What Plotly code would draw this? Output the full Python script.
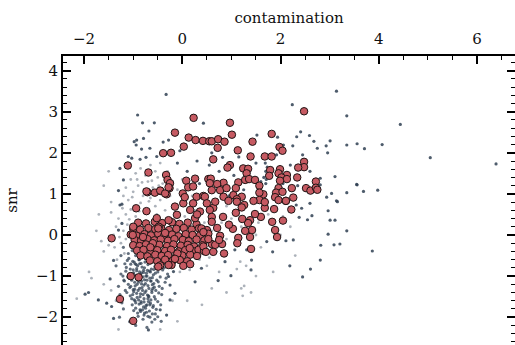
import plotly.graph_objects as go

# ---- flagged sources (red), core blob ----
core_x = [-0.90, -0.74, -0.56, -0.41, -0.21, -0.06, 0.11, 0.29,
          -1.00, -0.86, -0.69, -0.55, -0.43, -0.27, -0.12, 0.03, 0.19, 0.34, 0.50,
          -1.05, -0.93, -0.77, -0.64, -0.49, -0.37, -0.21, -0.08, 0.07, 0.21, 0.36, 0.53,
          -0.97, -0.84, -0.71, -0.57, -0.44, -0.29, -0.16, 0.01, 0.13, 0.29, 0.45,
          -1.00, -0.87, -0.74, -0.61, -0.47, -0.31, -0.18, -0.03, 0.11, 0.24, 0.41, 0.60,
          -0.92, -0.79, -0.63, -0.51, -0.35, -0.23, -0.07, 0.06, 0.21, 0.33,
          -0.85, -0.71, -0.55, -0.42, -0.29, -0.13, 0.00, 0.16, 0.30,
          -0.66, -0.51, -0.35, -0.20, -0.05, 0.10,
          -0.45, -0.22, 0.02, -0.80, -0.60, -0.35, -0.10, 0.15, -0.65, -0.48, -0.15]
core_y = [0.30, 0.28, 0.32, 0.29, 0.31, 0.27, 0.30, 0.26,
          0.15, 0.13, 0.17, 0.14, 0.16, 0.12, 0.15, 0.17, 0.13, 0.16, 0.12,
          0.01, -0.02, 0.02, -0.01, 0.03, -0.02, 0.01, -0.03, 0.02, 0.00, -0.01, 0.03,
          -0.12, -0.14, -0.10, -0.13, -0.11, -0.14, -0.10, -0.12, -0.15, -0.11, -0.13,
          -0.25, -0.27, -0.23, -0.26, -0.24, -0.27, -0.23, -0.26, -0.24, -0.28, -0.25, -0.22,
          -0.38, -0.36, -0.40, -0.37, -0.39, -0.36, -0.40, -0.37, -0.39, -0.36,
          -0.50, -0.52, -0.48, -0.51, -0.49, -0.53, -0.50, -0.48, -0.51,
          -0.62, -0.64, -0.60, -0.63, -0.61, -0.64,
          -0.74, -0.73, -0.75, -0.05, -0.20, 0.05, -0.45, -0.32, -0.30, 0.20, -0.58]

# ---- flagged sources (red), spread to higher contamination / snr ----
spread_x = [0.23, -0.15, 0.13, 0.27, 0.42, 0.03, -0.39, -0.23, -1.11, -0.69,
            -0.33, -0.30, 0.08, 0.26, -0.25, -0.26, 0.12, 0.22, -0.45, -0.71,
            -0.32, 0.01, 0.29, 0.43, 0.53, 0.55, 0.97, 0.60, 0.73, 0.86,
            1.01, 0.72, 1.82, 2.48, 1.43, 1.13, 1.98, 2.04, 0.63, 1.39,
            1.68, 1.82, 0.97, 0.92, 1.24, 1.34, 1.31, 1.79, 1.99, 1.96,
            2.13, 2.48, 2.48, 2.36, 2.34, 0.58, 0.84, 0.71, 1.14, 1.28,
            1.36, 1.48, 1.57, 1.77, 2.02, 2.13, 1.99, 2.23, 1.96, 1.91,
            2.04, 2.52, 2.61, 2.72, 2.72, 2.75, 2.26, 1.65, 1.57, 1.09,
            1.04, 1.21, 1.89, 1.96, 2.11, 0.46, 0.77, 0.90, 0.84, 1.11,
            1.57, 0.56, 0.60, -0.94, -0.73, -0.73, -0.56, -0.45, -0.35, -0.28]
spread_y = [2.85, 2.49, 2.37, 2.31, 2.29, 2.15, 1.99, 2.00, 1.69, 1.52,
            1.46, 1.34, 1.32, 1.37, 1.26, 1.14, 1.16, 1.18, 1.07, 1.04,
            0.99, 1.01, 0.93, 0.95, 1.36, 2.28, 2.73, 2.28, 2.33, 2.27,
            2.44, 2.12, 2.46, 3.01, 2.27, 2.06, 2.14, 2.05, 1.84, 1.91,
            1.91, 1.91, 1.70, 1.64, 1.62, 1.61, 1.50, 1.58, 1.60, 1.50,
            1.46, 1.78, 1.65, 1.64, 1.40, 1.37, 1.27, 1.24, 1.28, 1.34,
            1.36, 1.34, 1.20, 1.44, 1.40, 1.36, 1.32, 1.14, 1.14, 1.03,
            1.05, 1.14, 1.08, 1.30, 1.15, 1.10, 0.91, 0.99, 1.03, 1.14,
            0.97, 0.93, 0.92, 0.85, 0.83, 0.93, 1.09, 1.14, 0.93, 0.87,
            0.85, 1.26, 1.09, 0.65, 0.58, 1.06, 1.03, 1.08, 1.01, 1.16]

# ---- flagged sources (red), middle band and isolated ones ----
mid_x = [1.40, 1.93, 1.89, 1.83, 1.87, 1.68, 1.68, 2.11, 1.60, 1.48,
         1.38, 1.42, 1.38, 1.28, 1.34, 1.22, 1.09, 1.26, 1.03, 1.14,
         1.12, 0.81, 0.77, 0.71, 0.83, 0.60, 0.63, 0.63, 0.44, 0.36,
         0.50, 0.67, 0.94, 1.11, 1.21, 1.45, 0.56, 0.60, 0.39, 0.43,
         0.53, 0.67, 0.75, 0.43, 0.48, -0.52, -0.28, -0.11, -0.15, 0.02,
         0.05, 0.22, 0.16, 0.26, -0.49, -1.00, -1.01, -1.44, 0.16, -0.28,
         -0.49, -1.05, -0.89, -1.27, -1.00, 2.22, 2.05, 0.95, 0.30, 0.85]
mid_y = [-0.34, -0.05, 0.12, 0.32, 0.63, 0.66, 0.80, 0.83, 0.44, 0.51,
         0.36, 0.12, -0.05, 0.10, 0.29, 0.39, 0.54, 0.73, 0.15, -0.07,
         -0.20, -0.22, -0.02, 0.17, 0.44, 0.44, 0.66, -0.41, -0.39, 0.57,
         0.77, 0.81, 0.83, 0.81, 0.67, 0.83, 0.61, 0.32, 0.16, 0.07,
         -0.10, -0.24, -0.12, -0.28, -0.41, 0.41, 0.36, 0.49, 0.69, 0.77,
         0.92, 0.77, 0.61, 0.41, 0.16, 0.20, 0.00, -0.08, -0.71, -0.73,
         -0.77, -1.00, -1.03, -1.56, -2.09, 0.62, 0.35, 0.25, 0.50, -0.45]

# ---- all sources (grey), dense cloud at low snr ----
cloud_x = [-1.12, -1.05, -0.98, -0.91, -0.84, -0.77, -0.70, -0.63, -0.56, -0.50,
           -1.15, -1.08, -1.00, -0.94, -0.87, -0.80, -0.73, -0.66, -0.59, -0.52, -0.45,
           -1.18, -1.10, -1.03, -0.96, -0.89, -0.82, -0.75, -0.68, -0.61, -0.54, -0.47,
           -1.13, -1.06, -0.99, -0.92, -0.85, -0.78, -0.71, -0.64, -0.57, -0.50,
           -1.02, -0.95, -0.88, -0.81, -0.74, -0.67, -0.60, -0.55,
           -0.90, -0.80, -0.70, -0.62, -0.95, -0.72,
           -1.25, -1.30, -1.22, -1.35, -1.20, -1.28,
           -1.10, -1.02, -0.95, -1.20, -1.25, -0.40, -0.35, -0.42, -0.38, -0.30,
           -0.93, -0.86, -0.79, -0.72, -0.65, -0.97, -0.90, -0.83, -0.76, -0.69,
           -0.62, -0.84, -0.77, -0.98, -1.05, -0.58, -0.53, -1.08, -0.88, -0.75,
           -0.92, -0.81, -0.70, -1.00, -0.66, -0.86, -0.74, -0.95, -0.60, -0.79]
cloud_y = [-0.62, -0.71, -0.66, -0.75, -0.69, -0.80, -0.72, -0.83, -0.77, -0.90,
           -0.88, -0.95, -0.85, -0.98, -0.90, -1.02, -0.93, -1.05, -0.97, -1.10, -1.02,
           -1.12, -1.20, -1.10, -1.24, -1.15, -1.28, -1.18, -1.30, -1.21, -1.35, -1.25,
           -1.40, -1.48, -1.38, -1.52, -1.43, -1.55, -1.46, -1.58, -1.50, -1.62,
           -1.70, -1.78, -1.68, -1.82, -1.72, -1.85, -1.76, -1.92,
           -1.98, -2.05, -1.98, -2.12, -2.20, -2.25,
           -0.95, -1.25, -1.55, -0.75, -1.80, -2.00,
           -0.45, -0.38, -0.50, -0.30, -0.50, -0.85, -1.15, -1.45, -0.70, -0.95,
           -0.82, -1.08, -0.86, -1.10, -0.90, -1.32, -1.35, -1.12, -1.40, -1.62,
           -1.40, -1.62, -1.90, -1.58, -1.25, -1.18, -0.82, -1.05, -0.60, -0.58,
           -1.20, -1.35, -1.55, -0.95, -1.70, -1.50, -1.00, -1.65, -1.30, -1.75]

# ---- more members of the low-snr cloud ----
cloud2_x = [-1.09, -1.01, -0.94, -0.88, -0.82, -0.76, -0.71, -0.65, -0.58, -0.51,
            -1.14, -1.06, -0.99, -0.93, -0.85, -0.79, -0.72, -0.67, -0.61, -0.55,
            -1.11, -1.04, -0.97, -0.90, -0.83, -0.77, -0.70, -0.64, -0.57, -0.49,
            -1.07, -1.00, -0.93, -0.87, -0.80, -0.74, -0.68, -0.62, -0.55, -0.48,
            -1.03, -0.96, -0.89, -0.84, -0.78, -0.72, -0.65, -0.59, -0.53, -0.44,
            -0.99, -0.91, -0.85, -0.78, -0.73, -0.66, -0.61, -0.56, -0.50, -0.43,
            -1.17, -1.21, -1.16, -1.23, -1.19, -1.27, -0.46, -0.41, -0.37, -0.33,
            -0.87, -0.83, -0.78, -0.69, -0.64, -0.91, -0.96, -1.01, -0.58, -0.75]
cloud2_y = [-0.57, -0.64, -0.72, -0.60, -0.78, -0.66, -0.86, -0.68, -0.84, -0.72,
            -0.79, -0.83, -0.92, -0.87, -0.96, -0.91, -1.00, -0.88, -1.04, -0.93,
            -1.02, -1.07, -1.15, -1.05, -1.19, -1.09, -1.23, -1.12, -1.27, -1.14,
            -1.28, -1.33, -1.42, -1.30, -1.45, -1.36, -1.50, -1.35, -1.56, -1.41,
            -1.55, -1.60, -1.58, -1.66, -1.63, -1.70, -1.66, -1.72, -1.81, -1.70,
            -1.84, -1.90, -1.86, -1.95, -1.88, -2.00, -1.92, -2.05, -1.99, -2.10,
            -0.70, -1.00, -1.35, -1.65, -1.10, -1.45, -0.60, -1.30, -0.80, -1.05,
            -0.70, -0.92, -1.22, -1.48, -1.12, -1.10, -0.70, -1.45, -0.65, -1.78]

# ---- all sources (grey), scattered ----
scat_x = [3.14, 2.24, 3.35, 4.44, 3.56, 3.71, 4.07, 5.05, 6.39, 3.56,
          3.69, 3.98, 3.87, -0.33, 2.41, 2.59, 2.33, 2.68, 3.01, 2.93,
          2.75, 3.35, 2.25, 2.96, 1.52, 1.94, 2.06, 1.92, 0.82, 0.43,
          2.81, 3.11, 3.55, 2.94, 3.04, 3.35, 3.14, 2.81, 2.97, 3.16,
          3.35, 3.01, 3.11, 2.97, 3.21, 3.09, 2.82, 2.81, 2.61, 2.45,
          2.19, 2.11, 2.26, 2.38, 2.55, 2.64, 2.60, 2.43, 2.32, 1.84,
          1.72, 1.40, 1.41, 0.99, 0.73, 0.39, 0.87, 0.88, 1.07, 1.31,
          -0.91, -0.81, -0.57, -0.68, -0.79, -0.98, -0.93, -0.94, -0.83, -0.66,
          -0.39, -0.28, -1.10, -1.03, -0.86, -0.74, -0.52, -1.27, -1.20, -1.30,
          -1.23, -1.27, -1.23, -1.30, -1.98, -1.91, -1.71, -1.54, -1.44, -1.40,
          -1.40, -1.47, -0.69, -1.07, -0.86, -0.45, -0.32, -0.25, -0.15, 0.26,
          -0.25, -0.28, -0.18, 0.55, 0.75, 1.05, 1.15, 1.50, 1.60, 2.20,
          2.45, 2.60, 2.35, 2.05, 1.25, 0.95, 0.30, 0.10, -0.10, 0.35,
          0.60, -0.05, 1.70, 1.71, 1.72, 1.70, 1.73, 1.69, 1.66, 1.75]
scat_y = [3.50, 3.17, 2.90, 2.69, 2.22, 2.10, 2.20, 1.88, 1.73, 1.22,
          1.06, 1.09, -0.39, 3.42, 2.51, 2.42, 2.39, 2.28, 2.29, 2.17,
          2.11, 2.19, 2.17, 2.00, 2.43, 2.38, 2.19, 1.95, 1.89, 2.72,
          1.38, 1.42, 1.23, 0.92, 1.01, 1.03, 0.83, 1.22, 0.59, 0.81,
          0.10, 0.36, 0.36, 0.02, -0.22, -0.24, -0.25, -0.61, -0.83, -1.02,
          -0.75, -0.14, -0.12, 0.43, 0.37, 0.47, 0.77, 0.65, 0.73, -0.41,
          -0.16, -0.85, -0.61, -0.99, -1.11, -0.81, -0.65, -0.50, -0.36, -0.36,
          2.92, 2.73, 2.73, 2.53, 2.35, 2.27, 2.31, 2.19, 2.09, 2.11,
          2.26, 2.31, 1.91, 1.87, 1.84, 1.89, 1.91, 1.62, 1.34, 1.08,
          0.75, 0.73, 0.28, 0.12, -1.44, -1.40, -1.58, -1.66, -1.74, -2.03,
          -0.62, -1.07, -2.31, -2.11, -1.82, -1.82, -1.95, -1.58, -1.42, -1.14,
          -1.22, -1.01, -0.89, 1.70, 1.55, 1.45, 1.90, 1.75, 1.30, 1.70,
          1.95, 1.55, 1.20, 1.25, 1.10, 0.95, 1.80, 1.55, 1.75, 1.25,
          2.00, 2.05, 1.25, 1.35, 1.45, 1.55, 1.65, 1.75, 1.40, 1.50]

# ---- all sources (grey, faint), around the flagged blob ----
halo_x = [-1.15, -1.05, -0.95, -0.85, -0.75, -0.65, -0.55, -0.45, -0.35, -0.25,
          -1.10, -1.00, -0.90, -0.80, -0.70, -0.60, -0.50, -0.40, -0.30, -0.20,
          -1.05, -0.95, -0.85, -0.75, -0.65, -0.55, -0.45, -1.15, -1.20, -0.10,
          0.00, 0.15, -1.30, -1.35, -1.40, -1.20, -1.15, -1.25, -0.15, 0.05,
          0.25, 0.45, 0.60, 0.70, 0.55, 0.35, 0.15, -0.05, -0.25, 0.50,
          0.80, 0.90, 1.00, 0.90, 1.20, 1.50, 1.60, 1.55, 1.75, 2.00,
          2.05, 2.20, 0.45, 0.20, -1.45, -1.60, -1.75, -1.60, -1.50, -1.85,
          -2.15, -1.90, -1.65, -1.50, -1.45, -1.60, -1.45, -1.35, -0.20, 0.40,
          0.60, 1.20, 1.50, 0.90, -0.10, 0.10, 1.85, 2.30, 1.30, 0.75,
          -1.70, -1.30, -0.45, 1.23, 1.40, 1.26, 1.18, 1.11,
          -1.08, -0.98, -0.88, -0.78, -0.68, -0.58, -0.48, -1.12, -1.02, -0.92,
          -0.82, -0.72, -0.62, -0.52, -0.42, -1.18, -1.28, -1.33, -1.38, -1.22]
halo_y = [0.50, 0.62, 0.45, 0.78, 0.55, 0.90, 0.70, 0.85, 0.60, 0.95,
          0.85, 1.05, 1.20, 0.95, 1.30, 1.15, 1.40, 1.25, 1.55, 1.30,
          1.35, 1.50, 1.62, 1.45, 1.70, 1.55, 1.75, 1.15, 0.95, 1.10,
          1.35, 1.20, 0.40, 0.20, 0.00, 0.10, -0.10, -0.20, 0.55, 0.45,
          0.60, 0.30, 0.10, -0.40, -0.55, -0.60, -0.85, -0.90, -0.80, -0.75,
          0.30, -0.10, 0.40, 0.70, 0.20, 0.00, -0.30, 0.30, 0.50, 0.00,
          0.45, 0.20, 0.95, 0.95, 0.55, 1.20, 0.10, -0.40, -0.25, -1.05,
          -1.55, -0.90, -0.15, 1.55, 0.80, -1.20, -1.35, -1.60, -1.60, -1.70,
          -1.30, -1.30, -1.00, -1.40, -2.10, -1.60, -0.90, -0.50, -0.75, -0.90,
          0.50, -2.30, -2.30, -1.48, -1.40, -1.24, -0.65, -0.83,
          0.38, 0.70, 0.58, 1.10, 0.82, 1.00, 1.20, 0.25, 0.92, 1.35,
          1.28, 1.58, 1.32, 0.50, 1.05, -0.45, -0.05, -0.60, -0.30, 0.65]

# ---- axis ticks ----
x_ticks = [-2, 0, 2, 4, 6]
y_ticks = [-2, -1, 0, 1, 2, 3, 4]

SERIF = "DejaVu Serif"
GREY = "#2f3f52"
RED = "#c65a62"
Y_RANGE = [-2.677, 4.355]

fig = go.Figure()

fig.add_trace(go.Scatter(
    x=halo_x, y=halo_y, mode="markers", showlegend=False, hoverinfo="skip",
    marker=dict(size=2.8, color=GREY, opacity=0.4, line=dict(width=0)),
))
fig.add_trace(go.Scatter(
    x=cloud_x + cloud2_x, y=cloud_y + cloud2_y, mode="markers", showlegend=False,
    hoverinfo="skip",
    marker=dict(size=3.2, color=GREY, opacity=0.75, line=dict(width=0)),
))
fig.add_trace(go.Scatter(
    x=scat_x, y=scat_y, mode="markers", showlegend=False, hoverinfo="skip",
    marker=dict(size=3.2, color=GREY, opacity=0.85, line=dict(width=0)),
))

red_x = core_x + spread_x + mid_x
red_y = core_y + spread_y + mid_y
fig.add_trace(go.Scatter(
    x=red_x, y=red_y, mode="markers", showlegend=False,
    marker=dict(size=7.5, color=RED, line=dict(color="#1e1414", width=1)),
))

# invisible point that anchors the right-hand tick axis
fig.add_trace(go.Scatter(
    x=[0], y=[0], xaxis="x", yaxis="y2", mode="markers", showlegend=False,
    hoverinfo="skip", marker=dict(opacity=0),
))

tickfont = dict(family=SERIF, size=15, color="#111111")

fig.update_layout(
    width=515, height=345,
    margin=dict(l=63, r=0, t=56, b=0),
    paper_bgcolor="white", plot_bgcolor="white",
    font=dict(family=SERIF, size=15, color="#111111"),
    xaxis=dict(
        side="top", range=[-2.43, 6.776], tickvals=x_ticks,
        showgrid=False, zeroline=False,
        showline=True, linecolor="black", linewidth=2,
        ticks="inside", ticklen=8, tickwidth=1.5, tickcolor="black",
        minor=dict(dtick=0.5, ticks="inside", ticklen=4, tickwidth=1, tickcolor="black", showgrid=False),
        tickfont=tickfont, ticklabelstandoff=4,
        title=dict(text="contamination", font=dict(family=SERIF, size=15), standoff=3),
    ),
    yaxis=dict(
        range=Y_RANGE, tickvals=y_ticks,
        showgrid=False, zeroline=False,
        showline=True, linecolor="black", linewidth=2,
        ticks="inside", ticklen=8, tickwidth=1.5, tickcolor="black",
        minor=dict(dtick=0.2, ticks="inside", ticklen=4, tickwidth=1, tickcolor="black", showgrid=False),
        tickfont=tickfont,
        title=dict(text="snr", font=dict(family=SERIF, size=15)),
    ),
    yaxis2=dict(
        overlaying="y", side="right", anchor="x", range=Y_RANGE,
        tickvals=y_ticks, showticklabels=False,
        showgrid=False, zeroline=False,
        showline=True, linecolor="white", linewidth=2,
        ticks="inside", ticklen=8, tickwidth=1.5, tickcolor="black",
        minor=dict(dtick=0.2, ticks="inside", ticklen=4, tickwidth=1, tickcolor="black", showgrid=False),
    ),
)

fig.write_html("out.html")
